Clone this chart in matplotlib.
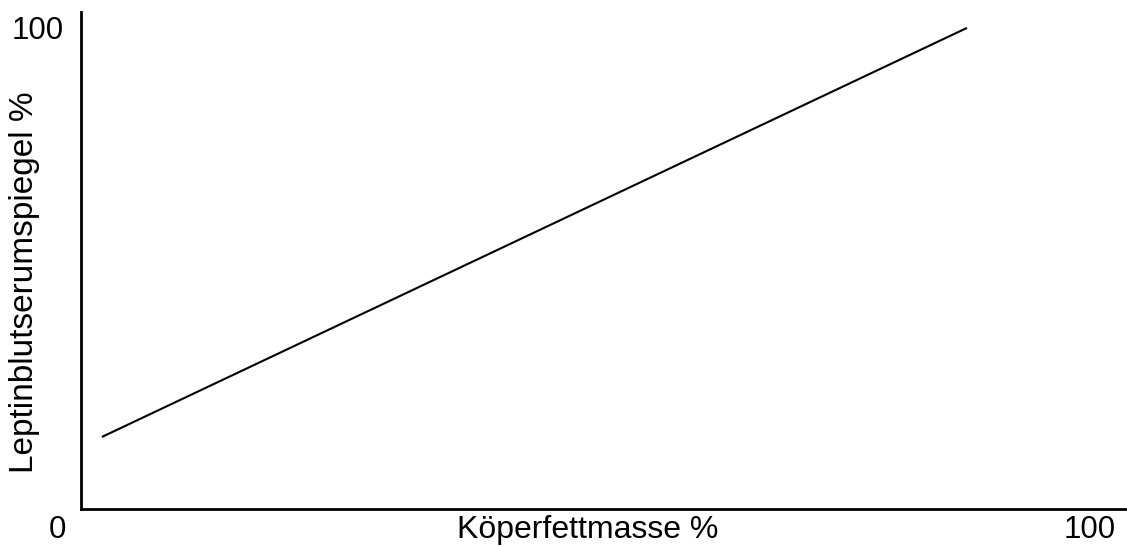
import matplotlib
matplotlib.use("Agg")
import matplotlib.pyplot as plt

# data (axis units 0..100)
x_vals = [2.0, 84.7]
y_vals = [14.5, 96.8]
x_label = "Köperfettmasse %"
y_label = "Leptinblutserumspiegel %"
x_tick_labels = ["0", "100"]
y_tick_labels = ["100"]

W, H = 1127, 547
plt.rcParams['font.family'] = ['Liberation Sans', 'DejaVu Sans']
fig = plt.figure(figsize=(W / 100, H / 100), dpi=100)
ax = fig.add_axes([81 / W, 1 - 509 / H, (1127 - 81) / W, (509 - 12) / H])
ax.set_xlim(0, 100)
ax.set_ylim(0, 100)
ax.plot(x_vals, y_vals, color="black", linewidth=1.5, solid_capstyle="butt")
for s in ["top", "right"]:
    ax.spines[s].set_visible(False)
for s in ["left", "bottom"]:
    ax.spines[s].set_linewidth(2)
    ax.spines[s].set_color("black")
ax.set_xticks([])
ax.set_yticks([])

fs = 22.5
fig.text(57 / W, 1 - 530 / H, x_tick_labels[0], ha="center", va="center", fontsize=fs)
fig.text(1090 / W, 1 - 530 / H, x_tick_labels[1], ha="center", va="center", fontsize=fs)
fig.text(38 / W, 1 - 31 / H, y_tick_labels[0], ha="center", va="center", fontsize=fs)
fig.text(588 / W, 1 - 530 / H, x_label, ha="center", va="center", fontsize=23)
fig.text(25 / W, 1 - 282 / H, y_label, ha="center", va="center", rotation=90, fontsize=24)

fig.savefig("out.png", dpi=100)
